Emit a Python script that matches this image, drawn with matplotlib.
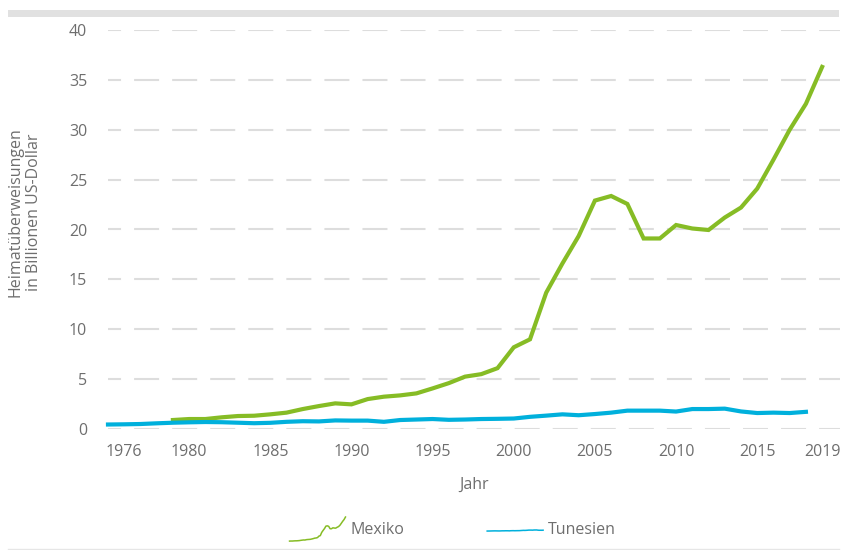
import matplotlib
matplotlib.use("Agg")
import matplotlib.pyplot as plt
import numpy as np
from matplotlib.legend_handler import HandlerBase
from matplotlib.lines import Line2D
from matplotlib.patches import Rectangle

# Werte (Mrd. US-Dollar)
mexiko_jahre = list(range(1979, 2020))
mexiko = [0.9, 1.0, 1.0, 1.17, 1.3, 1.33, 1.47, 1.64, 2.0, 2.3,
          2.57, 2.47, 3.0, 3.24, 3.37, 3.57, 4.07, 4.6, 5.25, 5.5,
          6.1, 8.19, 8.99, 13.67, 16.6, 19.35, 22.9, 23.36, 22.56, 19.1,
          19.1, 20.45, 20.1, 19.95, 21.2, 22.2, 24.1, 27.0, 30.0, 32.6,
          36.3]

tunesien_jahre = list(range(1975, 2019))
tunesien = [0.45, 0.47, 0.5, 0.57, 0.63, 0.67, 0.7, 0.68, 0.63, 0.58,
            0.62, 0.72, 0.78, 0.76, 0.86, 0.84, 0.84, 0.72, 0.9, 0.95,
            1.0, 0.92, 0.95, 1.0, 1.02, 1.05, 1.22, 1.34, 1.47, 1.38,
            1.5, 1.64, 1.84, 1.84, 1.84, 1.75, 2.0, 2.0, 2.04, 1.76,
            1.6, 1.64, 1.6, 1.72]

x_ticks = [1976, 1980, 1985, 1990, 1995, 2000, 2005, 2010, 2015, 2019]
y_ticks = [0, 5, 10, 15, 20, 25, 30, 35, 40]

gruen = "#86bc25"
blau = "#00b0dc"
grau = "#6e6e6e"

plt.rcParams['font.family'] = ['Open Sans', 'DejaVu Sans']
plt.rcParams['lines.scale_dashes'] = False


class SparkHandler(HandlerBase):
    # kleine Mini-Kurve als Legendensymbol
    def __init__(self, xs, ys, ymax, base):
        super().__init__()
        self.xs = np.asarray(xs, float)
        self.ys = np.asarray(ys, float)
        self.ymax = ymax
        self.base = base

    def create_artists(self, legend, orig_handle, xdescent, ydescent,
                       width, height, fontsize, trans):
        px = -xdescent + (self.xs - self.xs.min()) / (self.xs.max() - self.xs.min()) * width
        py = -ydescent + self.base * height + self.ys / self.ymax * height
        line = Line2D(px, py, color=orig_handle.get_color(), lw=1.1)
        line.set_transform(trans)
        return [line]


fig = plt.figure(figsize=(8.42, 5.5), dpi=100)
ax = fig.add_axes([108 / 842, 1 - 429 / 550, (840 - 108) / 842, (429 - 30) / 550])

l1, = ax.plot(mexiko_jahre, mexiko, color=gruen, lw=3, solid_joinstyle='miter',
              clip_on=False, zorder=3)
l2, = ax.plot(tunesien_jahre, tunesien, color=blau, lw=3, clip_on=False, zorder=3)

ax.set_xlim(1975, 2020.1)
ax.set_ylim(0, 40)
ax.set_xticks(x_ticks)
ax.set_yticks(y_ticks)
ax.tick_params(length=0, labelsize=11.5, colors=grau)
ax.tick_params(axis='y', pad=15)
ax.tick_params(axis='x', pad=11)
for s in ax.spines.values():
    s.set_visible(False)
ax.yaxis.grid(True, color="#dddddd", lw=1.5, linestyle=(8.6, (18, 9.4)))
ax.set_axisbelow(True)

ax.set_xlabel("Jahr", fontsize=11.5, color=grau, labelpad=12)
fig.text(25 / 842, 1 - 212 / 550, "Heimatüberweisungen\nin Billionen US-Dollar",
         rotation=90, ha='center', va='center', multialignment='center',
         fontsize=11.5, color=grau, linespacing=1.25)

leg = fig.legend([l1, l2], ["Mexiko", "Tunesien"], loc='center',
                 bbox_to_anchor=(0.5376, 0.0375), ncol=2, frameon=False,
                 fontsize=11.5, labelcolor=grau, handlelength=3.5,
                 handleheight=2.0, handletextpad=0.3, columnspacing=5.2,
                 handler_map={l1: SparkHandler(mexiko_jahre, mexiko, max(mexiko), 0.0),
                              l2: SparkHandler(tunesien_jahre, tunesien, max(mexiko), 0.42)})

# grauer Balken oben und Linie unten
fig.patches.append(Rectangle((8 / 842, 1 - 17 / 550), 831 / 842, 7 / 550,
                             transform=fig.transFigure, color="#e1e1e1", lw=0))
fig.lines.append(Line2D([8 / 842, 839 / 842], [1 - 549 / 550] * 2,
                        transform=fig.transFigure, color="#e6e6e6", lw=1))

fig.savefig("out.png", dpi=100)
